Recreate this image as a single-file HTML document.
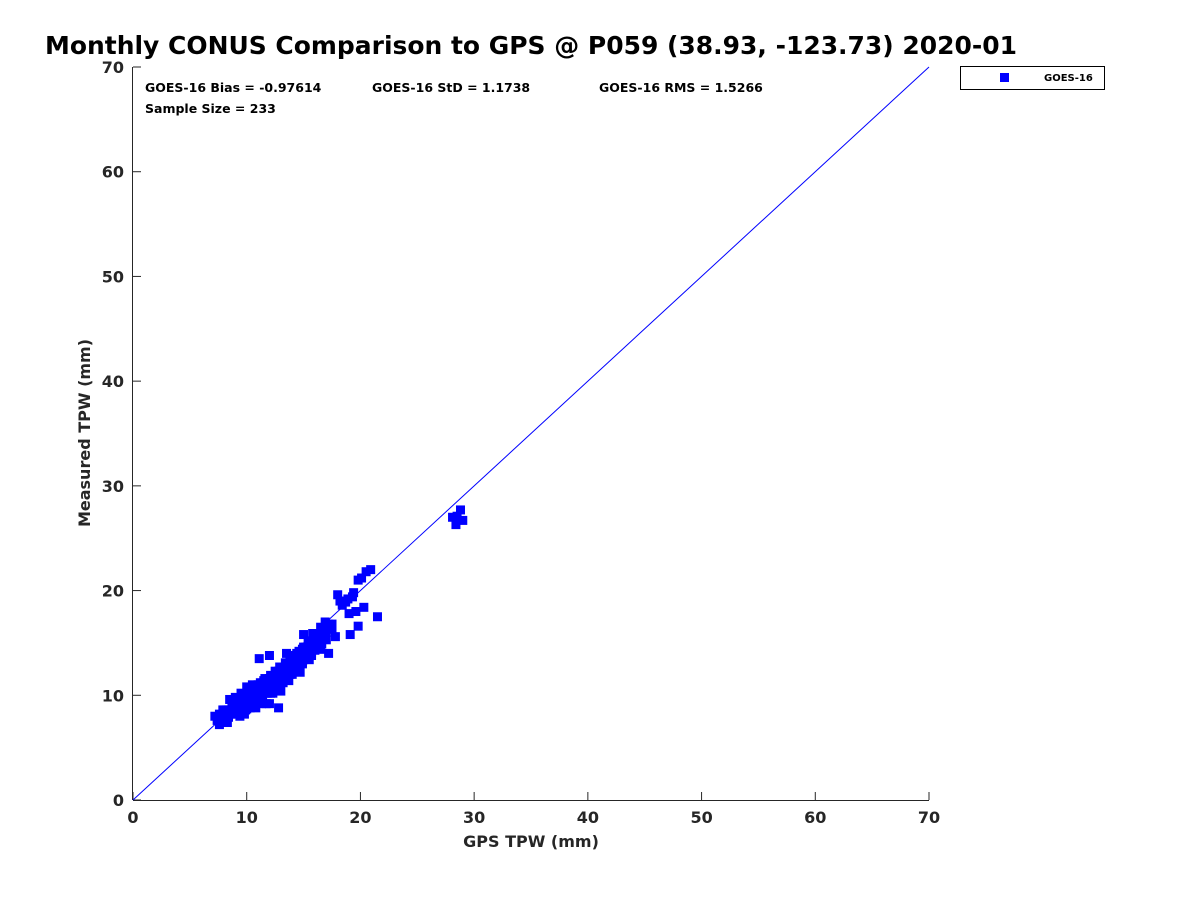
<!DOCTYPE html>
<html><head><meta charset="utf-8">
<style>
body{margin:0;background:#fff;font-family:"Liberation Sans","DejaVu Sans",sans-serif;}
svg text{font-family:"DejaVu Sans","Liberation Sans",sans-serif;font-weight:bold;}
</style></head>
<body>
<svg id="chart" width="1200" height="900" xmlns="http://www.w3.org/2000/svg">
<rect width="1200" height="900" fill="#fff"/>
<text x="531" y="54" text-anchor="middle" font-size="25" textLength="972" lengthAdjust="spacingAndGlyphs" fill="#000">Monthly CONUS Comparison to GPS @ P059 (38.93, -123.73) 2020-01</text>
<g id="axes"></g>
<g id="marks"></g>
<text x="145" y="92" font-size="12.5" fill="#000">GOES-16 Bias = -0.97614</text>
<text x="372" y="92" font-size="12.5" fill="#000">GOES-16 StD = 1.1738</text>
<text x="599" y="92" font-size="12.5" fill="#000">GOES-16 RMS = 1.5266</text>
<text x="145" y="113" font-size="12.5" fill="#000">Sample Size = 233</text>
<g>
<rect x="960.5" y="66.5" width="144" height="23" fill="#fff" stroke="#000" stroke-width="1"/>
<rect x="1000" y="73" width="9" height="9" fill="#0000ff"/>
<text x="1044" y="81" font-size="10" fill="#000">GOES-16</text>
</g>
<text x="531" y="847" text-anchor="middle" font-size="16" fill="#262626">GPS TPW (mm)</text>
<text transform="translate(90,433) rotate(-90)" text-anchor="middle" font-size="16" fill="#262626">Measured TPW (mm)</text>
</svg>
<script>
const xTicks=[0,10,20,30,40,50,60,70];
const yTicks=[0,10,20,30,40,50,60,70];
const gpsVals=[28.5,28.8,29.0,28.4,28.1,20.9,20.5,20.1,19.8,21.5,20.3,19.8,19.1,18.0,18.4,18.9,19.3,19.6,18.7,19.0,19.4,18.2,17.5,17.2,16.9,17.0,16.5,16.2,15.8,15.5,15.9,16.1,15.2,14.9,15.3,14.6,14.4,14.8,14.1,13.9,14.2,13.6,13.4,13.8,13.1,12.9,13.3,12.6,12.4,12.8,12.2,11.9,12.3,11.6,11.4,11.8,11.1,10.9,11.3,10.6,10.4,10.8,10.1,9.9,10.3,9.6,9.4,9.8,9.1,8.9,9.3,8.6,8.4,8.8,8.1,7.9,8.3,7.6,7.4,7.8,7.2,11.1,12.0,11.0,13.0,12.5,14.5,15.0,16.0,17.2,13.5,12.0,10.0,9.0,8.5,14.0,15.5,16.5,17.8,11.5,12.8,13.7,14.3,15.7,10.5,9.5,8.0,12.1,13.2,14.7,16.3,11.7,10.2,13.9,15.1,12.7,11.2,9.2,8.7,14.9,16.7,17.5,
 7.6,8.0,8.4,8.9,9.3,9.7,10.1,10.6,11.0,11.4,11.9,12.3,12.7,13.1,13.6,14.0,14.4,14.8,15.2,15.7,16.1,16.6,
 7.9,8.3,8.8,9.2,9.6,10.0,10.5,10.9,11.3,11.7,12.2,12.6,13.0,13.5,13.9,14.3,14.7,15.1,15.6,16.0,16.4,
 8.2,8.7,9.1,9.5,9.9,10.4,10.8,11.2,11.6,12.1,12.5,12.9,13.4,13.8,14.2,14.6,15.0,15.4,15.9,
 9.0,9.8,10.7,11.5,12.4,13.2,14.1,14.9,15.7,16.4,
 9.4,10.3,11.1,12.0,12.8,13.7,14.5,15.3,
 10.0,11.0,12.0,13.0,14.0,15.0,16.0,17.0,11.6,12.6,13.6,14.6];
const measVals=[27.1,27.7,26.7,26.3,27.0,22.0,21.8,21.2,21.0,17.5,18.4,16.6,15.8,19.6,18.6,19.2,19.4,18.0,18.9,17.8,19.8,19.0,16.3,16.8,17.0,16.0,16.5,15.6,15.9,15.2,14.8,15.4,14.6,14.4,14.0,13.8,14.0,13.2,13.4,13.0,12.6,12.8,12.2,12.0,12.4,11.6,11.8,11.2,11.0,11.4,10.6,10.8,10.2,10.6,10.0,10.2,9.8,9.6,9.2,9.6,9.2,8.8,9.0,8.6,8.8,8.4,8.0,8.2,8.6,8.8,9.4,8.2,8.6,9.2,8.0,8.6,7.4,8.2,7.6,7.8,8.0,13.5,13.8,11.0,10.4,11.8,13.6,15.8,15.8,14.0,14.0,9.2,10.8,9.8,9.6,12.0,13.4,14.4,15.6,11.4,8.8,11.4,12.8,13.8,11.0,10.2,8.6,10.2,11.2,12.2,14.6,9.2,9.8,12.6,14.0,12.2,10.4,9.0,8.2,13.0,16.4,16.8,
 7.2,7.6,7.9,8.3,8.6,9.0,9.4,9.7,10.0,10.4,10.8,11.1,11.5,11.9,12.2,12.6,13.0,13.4,13.7,14.1,14.5,14.9,
 8.2,8.5,8.9,9.3,9.6,10.0,10.4,10.7,11.1,11.5,11.8,12.2,12.6,13.0,13.3,13.7,14.1,14.5,14.8,15.2,15.6,
 8.6,9.0,9.3,9.7,10.1,10.5,10.8,11.2,11.6,11.9,12.3,12.7,13.1,13.4,13.8,14.2,14.6,15.0,15.3,
 8.3,8.9,9.6,10.3,11.0,11.7,12.4,13.1,13.8,14.4,
 9.5,10.2,10.9,11.6,12.3,13.0,13.7,14.4,
 8.7,9.6,10.6,11.5,12.5,13.4,14.3,15.3,10.2,11.1,12.1,13.0];
const X=v=>133+v*(929-133)/70;
const Y=v=>800-v*(800-67)/70;
const NS='http://www.w3.org/2000/svg';
function mk(tag,attrs,parent){const e=document.createElementNS(NS,tag);for(const k in attrs)e.setAttribute(k,attrs[k]);parent.appendChild(e);return e;}
const axes=document.getElementById('axes');
const xa=mk('line',{x1:133,y1:800.5,x2:929,y2:800.5,stroke:'#262626','stroke-width':1},axes);


const ya=mk('line',{x1:132.5,y1:67,x2:132.5,y2:800,stroke:'#262626','stroke-width':1},axes);


xTicks.forEach(t=>{
  mk('line',{x1:X(t),y1:800,x2:X(t),y2:792,stroke:'#262626'},axes);
  const tx=mk('text',{x:X(t),y:823,'text-anchor':'middle','font-size':16,fill:'#262626'},axes);
  tx.textContent=t;
  
  
});
yTicks.forEach(t=>{
  mk('line',{x1:133,y1:Y(t),x2:141,y2:Y(t),stroke:'#262626'},axes);
  const tx=mk('text',{x:124,y:Y(t)+6,'text-anchor':'end','font-size':16,fill:'#262626'},axes);
  tx.textContent=t;
  
  
});
const marks=document.getElementById('marks');
const ref=mk('line',{x1:X(0),y1:Y(0),x2:X(70),y2:Y(70),stroke:'#0000ff','stroke-width':1},marks);


gpsVals.forEach((g,i)=>{
  const r=mk('rect',{x:X(g)-4.5,y:Y(measVals[i])-4.5,width:9,height:9,fill:'#0000ff'},marks);
  
  
});
</script>
</body></html>
